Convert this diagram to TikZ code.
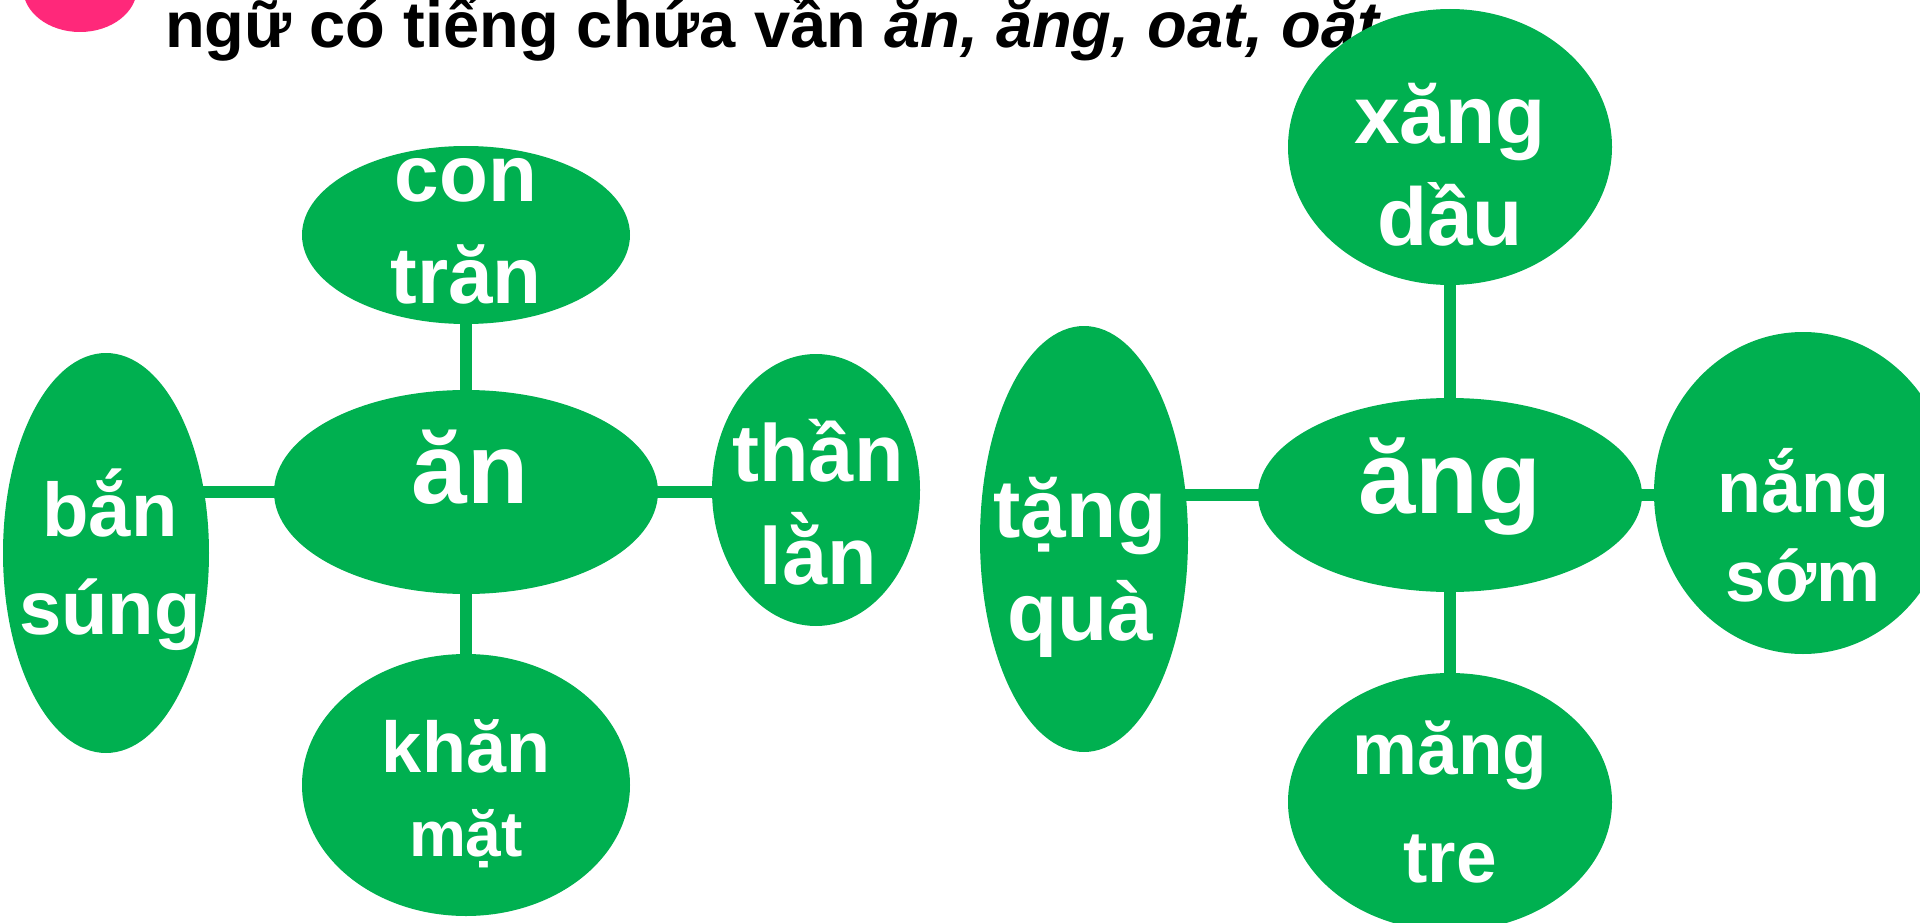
\documentclass[tikz,border=0pt]{standalone}
\usepackage{fontspec}
\setmainfont{Liberation Sans}
\usetikzlibrary{shapes.geometric,backgrounds,calc}
\definecolor{leafgreen}{RGB}{0,176,80}
\definecolor{badgepink}{RGB}{255,40,122}
\tikzset{
  bubble/.style={ellipse,fill=leafgreen,inner sep=0pt},
  word/.style 2 args={text=white,align=center,inner sep=0pt,font=\fontsize{#1}{#2}\selectfont\bfseries},
  link/.style={leafgreen,line width=12pt}
}

\begin{document}
\begin{tikzpicture}[x=1pt,y=-1pt]
    \useasboundingbox (0,0) rectangle (1920,923);
    \clip (0,0) rectangle (1920,923);

    % title
    \node[ellipse,fill=badgepink,minimum width=114,minimum height=88,inner sep=0pt] (badge) at (80,-12) {};
    \node[anchor=base west,inner sep=0pt,font=\fontsize{65}{78}\selectfont\bfseries] (title) at (165,48)
        {ngữ có tiếng chứa vần \textit{ăn, ăng, oat, oăt}};

    % left: ăn
    \node[bubble,minimum width=384,minimum height=204] (an) at (466,492) {};
    \node[bubble,minimum width=328,minimum height=178] (contran) at (466,235) {};
    \node[bubble,minimum width=206,minimum height=400] (bansung) at (106,553) {};
    \node[bubble,minimum width=208,minimum height=272] (thanlan) at (816,490) {};
    \node[bubble,minimum width=328,minimum height=262] (khanmat) at (466,785) {};

    \node[word={100}{120}] (anlbl) at ($(an)+(4,-25)$) {ăn};
    \node[word={80}{102}] (contranlbl) at ($(contran)+(0,-4)$) {con\\trăn};
    \node[word={76}{98}] (bansunglbl) at ($(bansung)+(4,7)$) {bắn\\súng};
    \node[word={81}{103}] (thanlanlbl) at ($(thanlan)+(2,12)$) {thần\\lằn};
    \node[word={72}{84}] (khanmatlbl) at ($(khanmat)+(0,9)$) {khăn\\{\fontsize{64}{80}\selectfont mặt}};

    % right: ăng
    \node[bubble,minimum width=384,minimum height=194] (ang) at (1450,495) {};
    \node[bubble,minimum width=324,minimum height=276] (xangdau) at (1450,147) {};
    \node[bubble,minimum width=208,minimum height=426] (tangqua) at (1084,539) {};
    \node[bubble,minimum width=298,minimum height=322] (nangsom) at (1803,493) {};
    \node[bubble,minimum width=324,minimum height=258] (mangtre) at (1450,802) {};

    \node[word={103}{124}] (anglbl) at ($(ang)+(0,-8)$) {ăng};
    \node[word={82}{102}] (xangdaulbl) at ($(xangdau)+(0,18)$) {xăng\\dầu};
    \node[word={82}{103}] (tangqualbl) at ($(tangqua)+(-4,28)$) {tặng\\quà};
    \node[word={72}{89}] (nangsomlbl) at ($(nangsom)+(0,32)$) {nắng\\sớm};
    \node[word={73}{108}] (mangtrelbl) at ($(mangtre)+(0,0)$) {măng\\tre};

    % connectors
    \begin{scope}[on background layer]
      \draw[link] (an.center) -- (contran.center);
      \draw[link] (an.center) -- (khanmat.center);
      \draw[link] (an.center) -- (an.center -| bansung.center);
      \draw[link] (an.center) -- (an.center -| thanlan.center);
      \draw[link] (ang.center) -- (xangdau.center);
      \draw[link] (ang.center) -- (mangtre.center);
      \draw[link] (ang.center) -- (ang.center -| tangqua.center);
      \draw[link] (ang.center) -- (ang.center -| nangsom.center);
    \end{scope}
\end{tikzpicture}
\end{document}
